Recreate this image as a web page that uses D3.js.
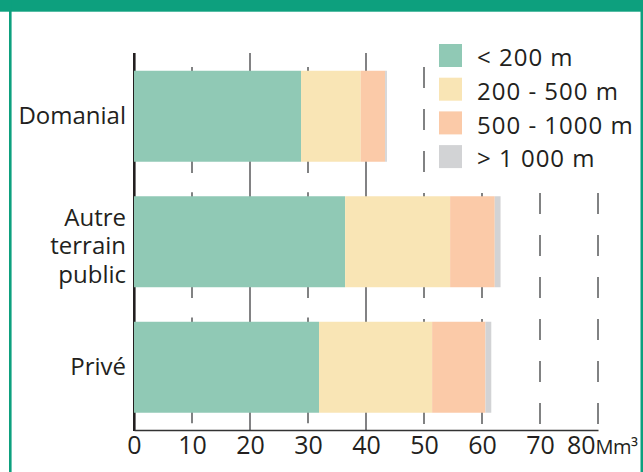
<!DOCTYPE html>
<html>
<head>
<meta charset="utf-8">
<script src="https://cdn.jsdelivr.net/npm/d3@7"></script>
<style>
    html, body { margin: 0; padding: 0; background: #ffffff; }
    svg { display: block; font-family: "Open Sans", sans-serif; }
</style>
</head>
<body>
<div id="chart"></div>
<script>
const WIDTH = 643;
const HEIGHT = 472;
const PLOT = { left: 134, right: 598, top: 53, bottom: 430 };

// data (Mm³ per altitude band)
const categories = ["Domanial", "Autre terrain public", "Privé"];
const seriesNames = ["< 200 m", "200 - 500 m", "500 - 1000 m", "> 1 000 m"];
const below200 = [28.8, 36.4, 31.9];
const from200to500 = [10.3, 18.1, 19.5];
const from500to1000 = [4.2, 7.7, 9.2];
const above1000 = [0.3, 1.0, 1.0];
const xTicks = [0, 10, 20, 30, 40, 50, 60, 70, 80];
const unitLabel = "Mm³";

const COLORS = ["#90c9b5", "#f9e5b5", "#fbcaa8", "#d2d3d5"];
const FRAME = "#0da07e";
const INK = "#231f20";
const GRID = "#58595b";

const seriesValues = [below200, from200to500, from500to1000, above1000];
const table = categories.map((c, i) => {
    const row = { category: c };
    seriesNames.forEach((s, j) => { row[s] = seriesValues[j][i]; });
    return row;
});

const svg = d3.select("#chart")
    .append("svg")
    .attr("width", WIDTH)
    .attr("height", HEIGHT);

// green frame
svg.append("rect")
    .attr("x", 0).attr("y", 0)
    .attr("width", WIDTH).attr("height", 11.7)
    .attr("fill", FRAME);
svg.append("line")
    .attr("x1", 10.3).attr("x2", 10.3)
    .attr("y1", 0).attr("y2", HEIGHT)
    .attr("stroke", FRAME).attr("stroke-width", 2.6);
svg.append("line")
    .attr("x1", 641.8).attr("x2", 641.8)
    .attr("y1", 0).attr("y2", HEIGHT)
    .attr("stroke", FRAME).attr("stroke-width", 2.6);

const x = d3.scaleLinear().domain([0, 80]).range([PLOT.left, PLOT.right]);
const y = d3.scaleBand()
    .domain(categories)
    .range([PLOT.top + 0.5, PLOT.bottom])
    .paddingInner(0.275)
    .paddingOuter(0.1375);

// dashed gridlines (drawn behind the bars)
function gridDash(d) {
    if (d === 20 || d === 40) return null;
    if (d === 10 || d === 30) return "12 19.3";
    return "21 21";
}
function gridOffset(d) {
    if (d === 10 || d === 30) return 17.3;
    return 28;
}

svg.append("g")
    .attr("class", "grid")
    .selectAll("line")
    .data(xTicks.filter((d) => d > 0))
    .join("line")
    .attr("x1", (d) => x(d))
    .attr("x2", (d) => x(d))
    .attr("y1", PLOT.top)
    .attr("y2", PLOT.bottom)
    .attr("stroke", GRID)
    .attr("stroke-width", 1.5)
    .attr("stroke-dasharray", gridDash)
    .attr("stroke-dashoffset", gridOffset);

// y axis line
svg.append("line")
    .attr("x1", PLOT.left + 0.3).attr("x2", PLOT.left + 0.3)
    .attr("y1", PLOT.top).attr("y2", PLOT.bottom + 1)
    .attr("stroke", INK)
    .attr("stroke-width", 2.6);

// stacked bars
const stacked = d3.stack().keys(seriesNames)(table);

svg.append("g")
    .attr("class", "bars")
    .selectAll("g")
    .data(stacked)
    .join("g")
    .attr("fill", (d, i) => COLORS[i])
    .selectAll("rect")
    .data((d) => d)
    .join("rect")
    .attr("x", (d) => x(d[0]))
    .attr("y", (d) => y(d.data.category))
    .attr("width", (d) => x(d[1]) - x(d[0]))
    .attr("height", y.bandwidth());

// category labels, one text per line
const labelRows = [];
categories.forEach((c) => {
    const lines = c === "Autre terrain public" ? c.split(" ") : [c];
    const cy = y(c) + y.bandwidth() / 2;
    const shift = lines.length > 1 ? 5 : 0;
    lines.forEach((l, i) => {
        labelRows.push({ text: l, y: cy + 7.7 + shift + (i - (lines.length - 1) / 2) * 28.5 });
    });
});

svg.append("g")
    .attr("class", "cat-labels")
    .selectAll("text")
    .data(labelRows)
    .join("text")
    .attr("text-anchor", "end")
    .attr("x", PLOT.left - 8)
    .attr("y", (d) => d.y)
    .attr("fill", INK)
    .style("font-size", "24px")
    .text((d) => d.text);

// x axis
const xAxis = svg.append("g")
    .attr("class", "x-axis")
    .attr("transform", `translate(0,${PLOT.bottom})`)
    .call(d3.axisBottom(x).tickValues(xTicks).tickSize(0).tickSizeOuter(0).tickPadding(6));

xAxis.select(".domain")
    .attr("stroke", "#333333")
    .attr("stroke-width", 1.5);
xAxis.selectAll("text")
    .attr("fill", INK)
    .style("font-size", "25px")
    .style("font-family", "\"Open Sans\", sans-serif");

// last label sits left of the tick, followed by the unit
xAxis.selectAll(".tick")
    .filter((d) => d === 80)
    .select("text")
    .attr("text-anchor", "end")
    .attr("x", -3);

svg.append("text")
    .attr("x", x(80) - 2.5)
    .attr("y", 453.6)
    .attr("fill", INK)
    .style("font-size", "20px")
    .style("letter-spacing", "-0.5px")
    .text(unitLabel);

// legend
const legend = svg.append("g").attr("class", "legend");
legend.append("rect")
    .attr("x", 432).attr("y", 40)
    .attr("width", 206).attr("height", 146)
    .attr("fill", "#ffffff");

const item = legend.selectAll("g.item")
    .data(seriesNames)
    .join("g")
    .attr("class", "item")
    .attr("transform", (d, i) => `translate(439,${44 + i * 33.7})`);

item.append("rect")
    .attr("width", 23)
    .attr("height", 23)
    .attr("fill", (d, i) => COLORS[i]);

item.append("text")
    .attr("x", 38)
    .attr("y", 22.3)
    .attr("fill", INK)
    .style("font-size", "24px")
    .style("letter-spacing", "1px")
    .text((d) => d);
</script>
</body>
</html>
